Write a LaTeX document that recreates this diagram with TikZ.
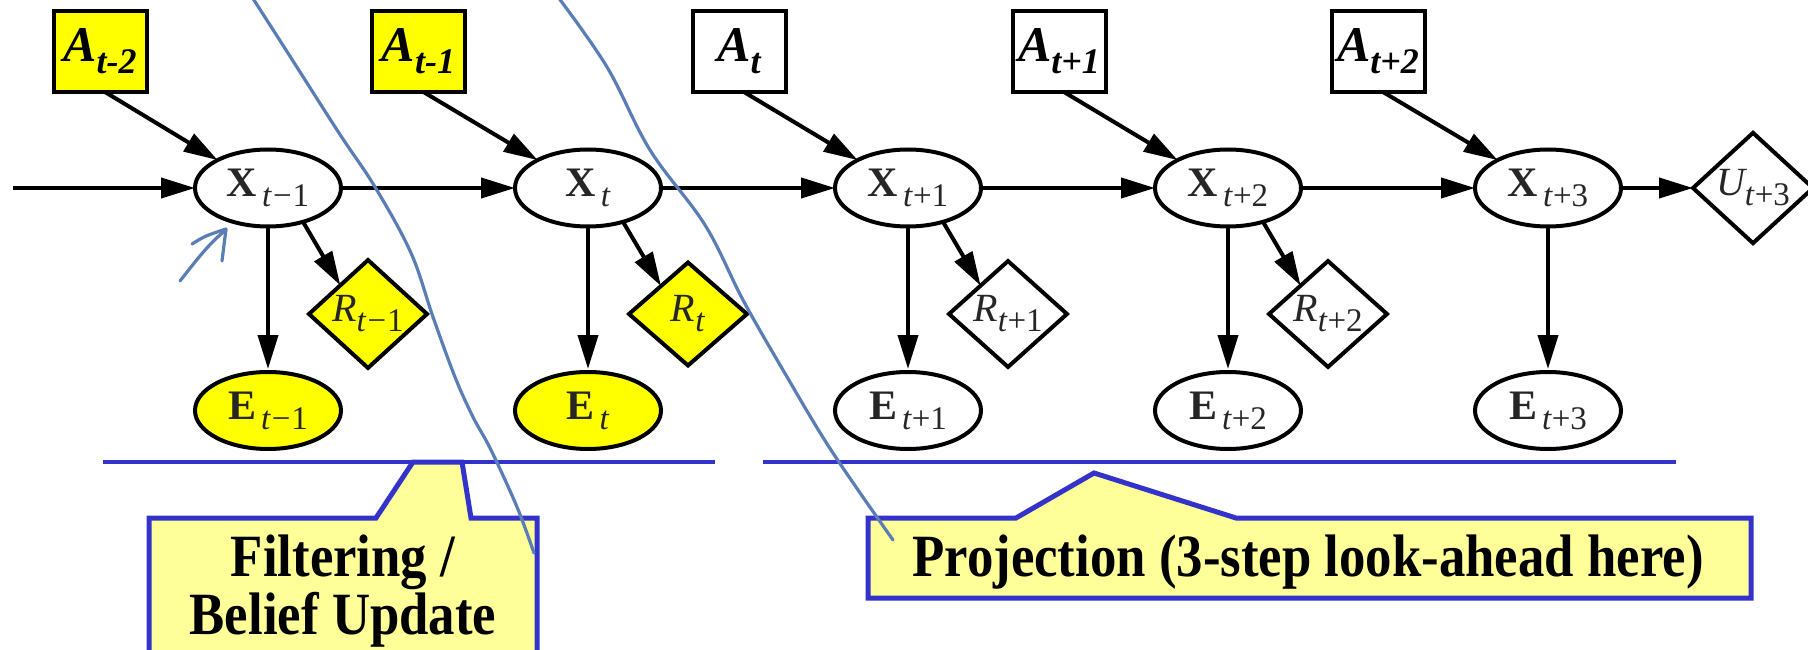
\documentclass[tikz,border=0pt]{standalone}
\usepackage{fontspec}
\setmainfont{Liberation Serif}
\usetikzlibrary{arrows.meta,shapes.geometric}
\definecolor{nodeyellow}{RGB}{255,255,0}
\definecolor{callfill}{RGB}{255,255,153}
\definecolor{callblue}{RGB}{51,51,204}
\definecolor{inkblue}{RGB}{91,125,181}
\newcommand{\Alab}[1]{\fontsize{50}{50}\selectfont\bfseries\itshape A\raisebox{-12pt}{\fontsize{36}{36}\selectfont #1}}
\newcommand{\Blab}[2]{{\fontsize{42}{42}\selectfont\bfseries #1}\hspace{5pt}\raisebox{-10pt}{\fontsize{33}{33}\selectfont #2}}
\newcommand{\Ilab}[2]{{\fontsize{40}{40}\selectfont\itshape #1}\raisebox{-10pt}{\fontsize{33}{33}\selectfont #2}}
\newcommand{\tm}[1]{\textit{t}\kern1pt−\kern1pt#1}
\newcommand{\tp}[1]{\textit{t}+#1}
\newcommand{\ctext}[1]{\scalebox{0.88}[1]{#1}}
\begin{document}
\begin{tikzpicture}[x=1pt,y=-1pt,
  every node/.style={inner sep=0pt, outer sep=0pt},
  abox/.style={draw, rectangle, line width=4pt, minimum width=93pt, minimum height=81pt},
  xnode/.style={draw, ellipse, line width=4pt, minimum width=146pt, minimum height=77pt, text=black!85},
  rnode/.style={draw, diamond, line width=4pt, minimum width=118pt, minimum height=103pt, text=black!85},
  yfill/.style={fill=nodeyellow},
  arr/.style={line width=4pt, -{Triangle[length=34pt,width=20pt]}},
  callout/.style={draw=callblue, fill=callfill, line width=5pt, line join=miter},
  calltext/.style={anchor=base, font=\fontsize{60}{64}\selectfont\bfseries},
  ink/.style={draw=inkblue, line width=3.2pt, line cap=round, line join=round}
]
\useasboundingbox (0,0) rectangle (1808,650);
\clip (0,0) rectangle (1808,650);
\fill[white] (0,0) rectangle (1808,650);

% action boxes
\node[abox,yfill] (A1) at (100,51.5) {\Alab{t-2}};
\node[abox,yfill] (A2) at (418.5,51.5) {\Alab{t-1}};
\node[abox] (A3) at (739,51.5) {\Alab{t}};
\node[abox] (A4) at (1059,51.5) {\Alab{t+1}};
\node[abox] (A5) at (1378,51.5) {\Alab{t+2}};

% state nodes
\node[xnode] (X1) at (268,188) {\Blab{X}{\tm{1}}};
\node[xnode] (X2) at (588,188) {\Blab{X}{\textit{t}}};
\node[xnode] (X3) at (908,188) {\Blab{X}{\tp{1}}};
\node[xnode] (X4) at (1228,188) {\Blab{X}{\tp{2}}};
\node[xnode] (X5) at (1548,188) {\Blab{X}{\tp{3}}};

% evidence nodes
\node[xnode,yfill] (E1) at (268,410.5) {\Blab{E}{\tm{1}}};
\node[xnode,yfill] (E2) at (588,410.5) {\Blab{E}{\textit{t}}};
\node[xnode] (E3) at (908,410.5) {\Blab{E}{\tp{1}}};
\node[xnode] (E4) at (1228,410.5) {\Blab{E}{\tp{2}}};
\node[xnode] (E5) at (1548,410.5) {\Blab{E}{\tp{3}}};

% reward nodes
\node[rnode,yfill] (R1) at (368,314) {\Ilab{R}{\tm{1}}};
\node[rnode,yfill] (R2) at (688,314) {\Ilab{R}{\textit{t}}};
\node[rnode] (R3) at (1008,314) {\Ilab{R}{\tp{1}}};
\node[rnode] (R4) at (1328,314) {\Ilab{R}{\tp{2}}};
\node[rnode, minimum width=120pt, minimum height=102pt] (U) at (1753,188) {\Ilab{U}{\tp{3}}};

% connectors
\coordinate (in) at (13,188);
\draw[arr] (in) -- (X1.west);
\draw[arr] (X1) -- (X2);
\draw[arr] (X2) -- (X3);
\draw[arr] (X3) -- (X4);
\draw[arr] (X4) -- (X5);
\draw[arr] (X5) -- (U);
\foreach \i in {1,...,5}{
  \draw[arr] ([xshift=5pt]A\i.south) -- (X\i.151);
  \draw[arr, shorten >=3pt] (X\i) -- (E\i);
}
\foreach \i in {1,...,4}{
  \draw[arr] (X\i.-44) -- (R\i.134);
}

% callouts
\path[callout] (149,518) -- (376,518) -- (413,462) -- (462,462) -- (471,518) -- (537,518) -- (537,690) -- (149,690) -- cycle;
\path[callout] (868,518) -- (1016,518) -- (1094,473) -- (1236,518) -- (1751,518) -- (1751,598) -- (868,598) -- cycle;
\draw[callblue, line width=4pt] (103,462) -- (715,462);
\draw[callblue, line width=4pt] (763,462) -- (1676,462);
\node[calltext] (f1) at (343,576) {\ctext{Filtering /}};
\node[calltext] (f2) at (343,634) {\ctext{Belief Update}};
\node[calltext] (pj) at (1308,576) {\ctext{Projection (3-step look-ahead here)}};

% hand-drawn ink
\draw[ink] plot[smooth, tension=0.6] coordinates {(252,-3) (286,50) (339,133) (375,187) (411,253) (433,317) (455,377) (473,417) (491,450) (517,507) (534,553)};
\draw[ink] plot[smooth, tension=0.6] coordinates {(558,-3) (607,67) (650,150) (705,225) (743,300) (783,370) (831,450) (893,540)};
\draw[ink] (180,281) .. controls (195,262) and (210,242) .. (226,230);
\draw[ink] (192,244) .. controls (205,236) .. (226,229) -- (222,261);
\end{tikzpicture}
\end{document}
